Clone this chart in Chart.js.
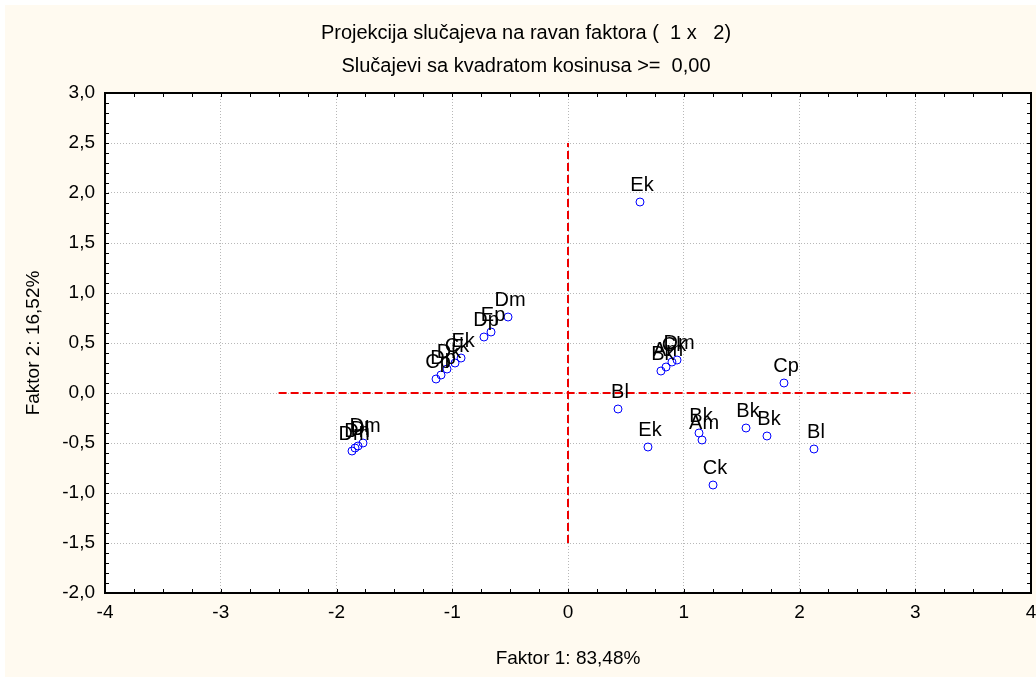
<!DOCTYPE html>
<html>
<head>
<meta charset="utf-8">
<title>Projekcija slučajeva</title>
<script src="https://cdn.jsdelivr.net/npm/chart.js@4/dist/chart.umd.min.js"></script>
<style>
  html, body { margin: 0; padding: 0; background: #fff; }
  #plotCanvas { display: block; }
</style>
</head>
<body>
<canvas id="plotCanvas" width="1036" height="677"></canvas>
<script>
// Case coordinates on factors 1 and 2
const caseLabels = ['Ek', 'Dm', 'Ep', 'Dp', 'Ek', 'Ck', 'Dk', 'Dp', 'Cp',
                    'Dm', 'Dn', 'Dl', 'Dm',
                    'Bk', 'Am', 'Ck', 'Dm',
                    'Cp', 'Bl', 'Ek', 'Bk', 'Am', 'Bk', 'Bk', 'Bl', 'Ck'];
const factor1 = [0.622, -0.518, -0.665, -0.726, -0.924, -0.976, -1.045, -1.097, -1.140,
                 -1.866, -1.840, -1.814, -1.771,
                 0.803, 0.847, 0.898, 0.942,
                 1.866, 0.432, 0.691, 1.132, 1.158, 1.538, 1.719, 2.125, 1.253];
const factor2 = [1.91, 0.76, 0.61, 0.56, 0.35, 0.30, 0.24, 0.18, 0.14,
                 -0.58, -0.55, -0.53, -0.50,
                 0.22, 0.26, 0.31, 0.33,
                 0.10, -0.16, -0.54, -0.40, -0.47, -0.35, -0.43, -0.56, -0.92];

// Axis ranges and the dashed origin lines
const xRange = [-4, 4];
const yRange = [-2, 3];
const hLineX = [-2.5, 3];
const vLineY = [-1.5, 2.5];

const titleLines = ['Projekcija slučajeva na ravan faktora (  1 x   2)',
                    'Slučajevi sa kvadratom kosinusa >=  0,00'];

const FONT = "'Liberation Sans', Arial, sans-serif";
const CREAM = '#fffaf0';

const points = factor1.map((x, i) => ({ x: x, y: factor2[i] }));

// backgrounds, titles, frame with inner ticks, case labels
const decorPlugin = {
    id: 'decor',
    beforeDraw(chart) {
        const ctx = chart.ctx;
        const a = chart.chartArea;
        ctx.save();
        ctx.fillStyle = '#fff';
        ctx.fillRect(0, 0, chart.width, chart.height);
        ctx.fillStyle = CREAM;
        ctx.fillRect(5, 5, chart.width - 5, chart.height - 5);
        ctx.fillStyle = '#fff';
        ctx.fillRect(a.left, a.top, a.right - a.left, a.bottom - a.top);

        ctx.fillStyle = '#000';
        ctx.font = '20px ' + FONT;
        ctx.textAlign = 'center';
        ctx.textBaseline = 'middle';
        ctx.fillText(titleLines[0], 526, 33);
        ctx.fillText(titleLines[1], 526, 66);
        ctx.restore();
    },
    afterDraw(chart) {
        const ctx = chart.ctx;
        const a = chart.chartArea;
        const xs = chart.scales.x;
        const ys = chart.scales.y;
        ctx.save();

        // case labels
        const meta = chart.getDatasetMeta(0);
        ctx.fillStyle = '#000';
        ctx.font = '20px ' + FONT;
        ctx.textAlign = 'center';
        ctx.textBaseline = 'alphabetic';
        meta.data.forEach((pt, i) => {
            ctx.fillText(caseLabels[i], pt.x + 2, pt.y - 11);
        });

        // inner tick marks
        ctx.strokeStyle = '#000';
        ctx.lineWidth = 1;
        ctx.beginPath();
        for (let v = xRange[0]; v <= xRange[1] + 1e-9; v += 0.25) {
            const px = Math.round(xs.getPixelForValue(v)) + 0.5;
            ctx.moveTo(px, a.top); ctx.lineTo(px, a.top + 4);
            ctx.moveTo(px, a.bottom); ctx.lineTo(px, a.bottom - 4);
        }
        for (let v = yRange[0]; v <= yRange[1] + 1e-9; v += 0.1) {
            const py = Math.round(ys.getPixelForValue(v)) + 0.5;
            ctx.moveTo(a.left, py); ctx.lineTo(a.left + 4, py);
            ctx.moveTo(a.right, py); ctx.lineTo(a.right - 4, py);
        }
        ctx.stroke();

        // frame
        ctx.lineWidth = 2;
        ctx.strokeRect(a.left, a.top, a.right - a.left, a.bottom - a.top);
        ctx.restore();
    }
};

new Chart(document.getElementById('plotCanvas'), {
    type: 'scatter',
    data: {
        datasets: [{
            data: points,
            pointStyle: 'circle',
            pointRadius: 4,
            pointHoverRadius: 4,
            borderColor: '#0000ff',
            backgroundColor: 'rgba(0,0,0,0)',
            borderWidth: 1
        }, {
            type: 'line',
            data: hLineX.map(x => ({ x: x, y: 0 })),
            borderColor: '#ee0000',
            borderWidth: 2,
            borderDash: [8, 4],
            pointRadius: 0,
            fill: false
        }, {
            type: 'line',
            data: vLineY.map(y => ({ x: 0, y: y })),
            borderColor: '#ee0000',
            borderWidth: 2,
            borderDash: [8, 4],
            pointRadius: 0,
            fill: false
        }]
    },
    options: {
        responsive: false,
        animation: false,
        devicePixelRatio: 1,
        layout: { padding: { top: 93, right: 5, left: 0, bottom: 0 } },
        plugins: {
            legend: { display: false },
            title: { display: false },
            tooltip: { enabled: false }
        },
        scales: {
            x: {
                type: 'linear',
                min: xRange[0],
                max: xRange[1],
                afterFit(scale) {
                    scale.height = 84;
                    scale.paddingLeft = 0;
                    scale.paddingRight = 0;
                },
                grid: { color: '#b8b8b8', lineWidth: 1, drawTicks: false },
                border: { display: false, dash: [1, 2] },
                ticks: {
                    stepSize: 1,
                    padding: 8,
                    color: '#000',
                    font: { family: FONT, size: 19 },
                    callback: v => String(v)
                },
                title: {
                    display: true,
                    text: 'Faktor 1: 83,48%',
                    color: '#000',
                    font: { family: FONT, size: 19 },
                    padding: { top: 0, bottom: 7 }
                }
            },
            y: {
                type: 'linear',
                min: yRange[0],
                max: yRange[1],
                afterFit(scale) {
                    scale.width = 105;
                    scale.paddingTop = 0;
                    scale.paddingBottom = 0;
                },
                grid: { color: '#b8b8b8', lineWidth: 1, drawTicks: false },
                border: { display: false, dash: [1, 2] },
                ticks: {
                    stepSize: 0.5,
                    padding: 10,
                    color: '#000',
                    font: { family: FONT, size: 19 },
                    callback: v => v.toFixed(1).replace('.', ',')
                },
                title: {
                    display: true,
                    text: 'Faktor 2: 16,52%',
                    color: '#000',
                    font: { family: FONT, size: 19 },
                    padding: { top: 22, bottom: 0 }
                }
            }
        }
    },
    plugins: [decorPlugin]
});
</script>
</body>
</html>
